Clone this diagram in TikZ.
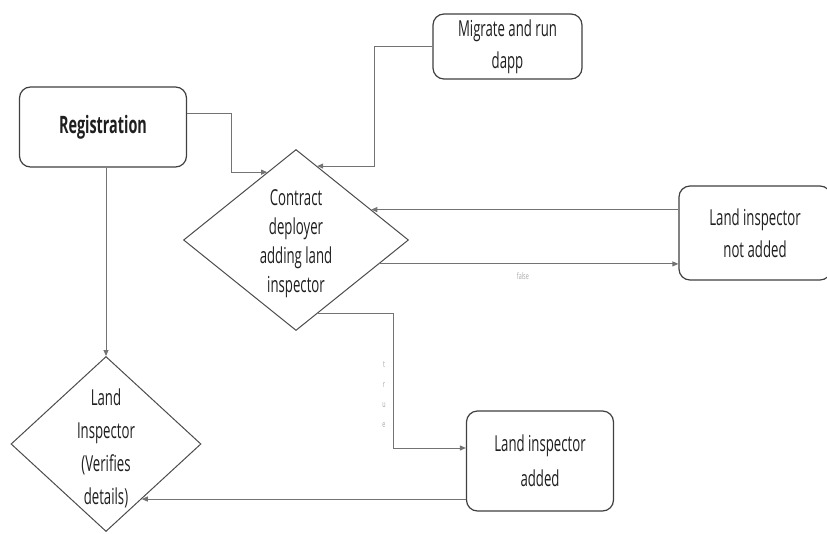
\documentclass[tikz,border=0pt]{standalone}
\usepackage{fontspec}
\setmainfont{Open Sans}[FakeStretch=0.6]
\usetikzlibrary{shapes.geometric,arrows.meta}
\begin{document}
\begin{tikzpicture}[x=1pt,y=-1pt,
  box/.style={draw=black!75, line width=1.2pt, rounded corners=11pt, align=center,
    font=\fontsize{22}{32}\selectfont, text=black!88, inner sep=0pt},
  dia/.style={draw=black!70, line width=1pt, diamond, inner sep=0pt},
  txt/.style={align=center, font=\fontsize{22}{29}\selectfont, text=black!88, inner sep=0pt},
  conn/.style={draw=black!55, line width=0.9pt, -{Triangle[length=6pt,width=5pt]}},
  lab/.style={text=black!35, font=\fontsize{9}{20}\selectfont, inner sep=0pt, align=center}]
\useasboundingbox (0,0) rectangle (827,533);
\fill[white] (0,0) rectangle (827,533);

\node[box, minimum width=167pt, minimum height=80pt, font=\fontsize{24}{30}\selectfont\bfseries] (reg) at (103,127) {Registration};
\node[box, minimum width=149pt, minimum height=65pt] (mig) at (507.5,46.5) {Migrate and run\\dapp};
\node[dia, minimum width=225pt, minimum height=181pt] (c) at (296,240) {};
\node[txt] (ct) at (296,244) {Contract\\deployer\\adding land\\inspector};
\node[box, minimum width=152pt, minimum height=94pt] (na) at (755,233) {Land inspector\\not added};
\node[dia, minimum width=190pt, minimum height=175pt] (li) at (106,444) {};
\node[txt, font=\fontsize{22}{33}\selectfont] (lt) at (106,448) {Land\\Inspector\\(Verifies\\details)};
\node[box, minimum width=147pt, minimum height=100pt, font=\fontsize{22}{35}\selectfont] (ad) at (540,461) {Land inspector\\added};

% connectors
\draw[conn] ([yshift=14pt]reg.east) -- ++(44,0) |- (c.113);
\draw[conn] (mig.west) -- ++(-58,0) |- (c.74);
\draw[conn] (c.22 -| na.west) -- (c.22);
\draw[conn] (c.-16) -- (c.-16 -| na.west) node[lab, pos=0.48, below=8pt] (fl) {false};
\draw[conn] (c.-73) -- ++(75,0) coordinate (tc) |- ([yshift=13pt]ad.west);
\node[lab] (tl) at (384,395) {t\\r\\u\\e};
\draw[conn] (li.north |- reg.south) -- (li.north);
\draw[conn] (li.-57 -| ad.west) -- (li.-57);
\end{tikzpicture}
\end{document}
